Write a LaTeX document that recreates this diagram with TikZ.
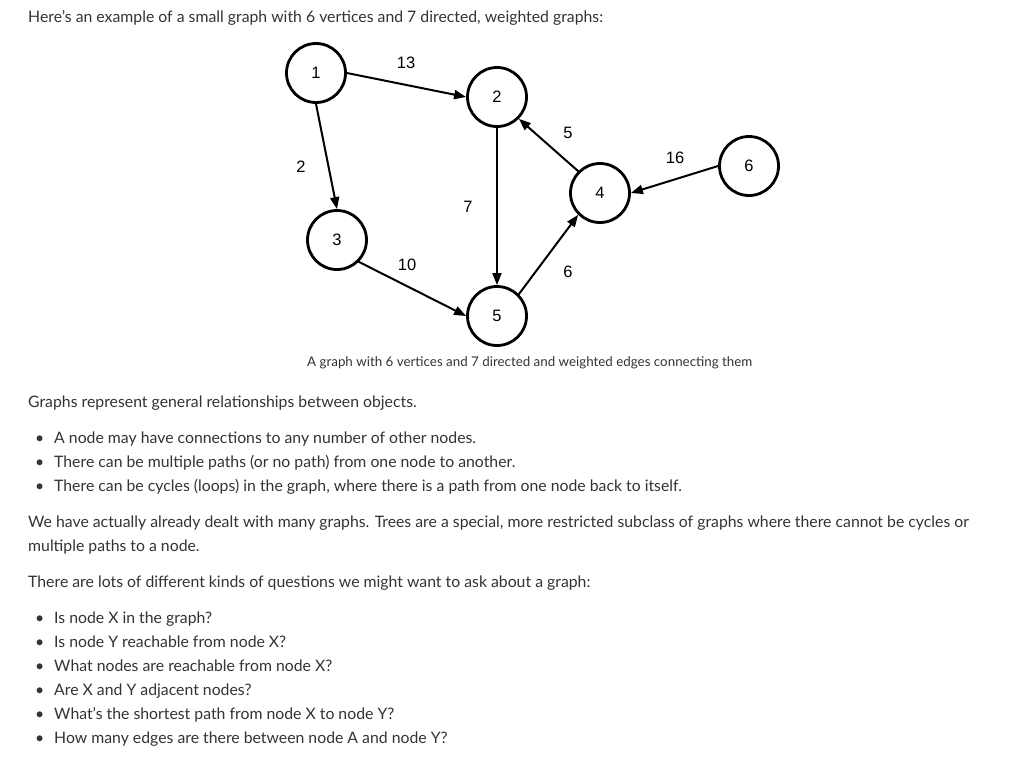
\documentclass[tikz,border=0pt]{standalone}
\usepackage{fontspec}
\setmainfont{Lato}
\newfontfamily\arialfont{Liberation Sans}
\usetikzlibrary{arrows.meta}
\definecolor{textgray}{HTML}{333333}

\begin{document}
\begin{tikzpicture}[line cap=round,line join=round,>={Triangle[length=12pt,width=9pt]},x=1pt,y=-1pt,
	vertex/.style={circle,draw=black,line width=2.8pt,minimum size=59pt,inner sep=0pt,font=\arialfont\fontsize{16.5}{16.5}\selectfont},
	weight/.style={inner sep=0pt,font=\arialfont\fontsize{16.5}{16.5}\selectfont},
	edge/.style={->,line width=2pt},
	txt/.style={anchor=base west,inner sep=0pt,text=textgray,font=\fontsize{15.8}{18}\selectfont}]
	\useasboundingbox (0,0) rectangle (1035,760);
	% intro line
	\node[txt] (intro) at (28,23) {Here’s an example of a small graph with 6 vertices and 7 directed, weighted graphs:};
	% the graph
	\node[vertex] (v1) at (316,73) {1};
	\node[vertex] (v2) at (497,97) {2};
	\node[vertex] (v3) at (337,240) {3};
	\node[vertex] (v4) at (600,193) {4};
	\node[vertex] (v5) at (497,316) {5};
	\node[vertex] (v6) at (749,166) {6};
	\draw [edge] (v1.east) -- (v2.west);
	\draw [edge] (v1.south) -- (v3.north);
	\draw [edge] (v2.south) -- (v5.north);
	\draw [edge] (v3.-45) -- (v5.west);
	\draw [edge] (v5.45) -- (v4.225);
	\draw [edge] (v4.135) -- (v2.-45);
	\draw [edge] (v6.west) -- (v4.east);
	\node[weight] (w12) at (406,63) {13};
	\node[weight] (w13) at (301,167) {2};
	\node[weight] (w25) at (468,207) {7};
	\node[weight] (w35) at (407,265) {10};
	\node[weight] (w54) at (568,272) {6};
	\node[weight] (w42) at (568,133) {5};
	\node[weight] (w64) at (675,158) {16};
	\node[txt,font=\fontsize{13.35}{16}\selectfont] (caption) at (307,366) {A graph with 6 vertices and 7 directed and weighted edges connecting them};
	% body text
	\node[txt] (para1) at (28,407) {Graphs represent general relationships between objects.};
	\foreach \y/\t in {443/{A node may have connections to any number of other nodes.},
		467/{There can be multiple paths (or no path) from one node to another.},
		491/{There can be cycles (loops) in the graph, where there is a path from one node back to itself.}}{
		\node[txt] at (35,\y) {•};
		\node[txt] at (54,\y) {\t};
	}
	\node[txt] (para2) at (28,527) {We have actually already dealt with many graphs. Trees are a special, more restricted subclass of graphs where there cannot be cycles or};
	\node[txt] (para2b) at (28,551) {multiple paths to a node.};
	\node[txt] (para3) at (28,587) {There are lots of different kinds of questions we might want to ask about a graph:};
	\foreach \y/\t in {623/{Is node X in the graph?},
		647/{Is node Y reachable from node X?},
		671/{What nodes are reachable from node X?},
		695/{Are X and Y adjacent nodes?},
		719/{What’s the shortest path from node X to node Y?},
		743/{How many edges are there between node A and node Y?}}{
		\node[txt] at (35,\y) {•};
		\node[txt] at (54,\y) {\t};
	}
\end{tikzpicture}
\end{document}
